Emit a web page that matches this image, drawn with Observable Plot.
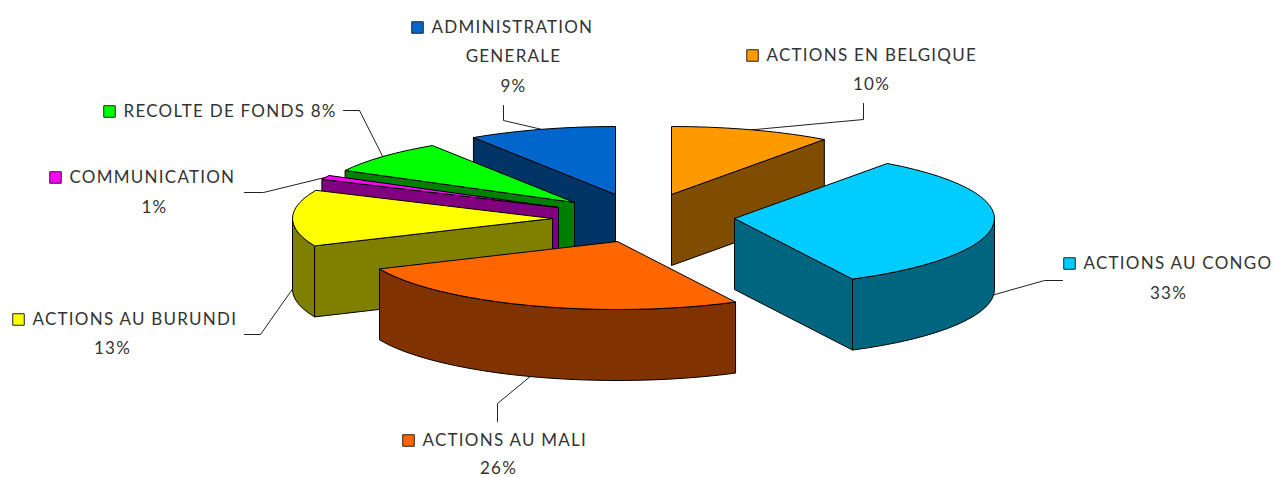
<!DOCTYPE html>
<html><head><meta charset="utf-8">
<script src="https://cdn.jsdelivr.net/npm/d3@7"></script>
<script src="https://cdn.jsdelivr.net/npm/@observablehq/plot@0.6"></script>
<style>html,body{margin:0;background:#fff}svg{display:block}</style>
</head><body><div id="chart"></div>
<script>
// Data: clockwise from twelve o'clock. Labels are the shares rounded.
const names  = ["ACTIONS EN BELGIQUE","ACTIONS AU CONGO","ACTIONS AU MALI","ACTIONS AU BURUNDI","COMMUNICATION","RECOLTE DE FONDS","ADMINISTRATION GENERALE"];
const shares = [10, 32.5, 25.9, 13.4, 1, 8, 9.2];
const topColors  = ["#ff9900","#00ccff","#ff6600","#ffff00","#ff00ff","#00ff00","#0066cc"];
const wallColors = ["#804d00","#006680","#803300","#808000","#800080","#008000","#003366"];

// Layout: exploded apex of each slice, leader elbows and label anchors.
const apexX = [671, 734, 617, 552, 558, 574, 615];
const apexY = [194, 218, 241, 218, 207, 202, 194];
const drawOrder = [6, 5, 4, 3, 0, 1, 2];
const radiusX = 260, radiusY = 68, depth = 71;
const leaderStartX = [863, 1062, 497, 244, 244, 343, 503];
const leaderStartY = [103, 280, 421, 334, 192, 110, 105];
const leaderElbowX = [863, 1044, 497, 260, 263, 359, 503];
const leaderElbowY = [119, 280, 403, 334, 192, 110, 120];
const keyX  = [752, 1069, 408, 18, 55, 109, 417];
const keyY  = [55, 263, 440, 319, 177, 111, 27];
const nameLines = [["ACTIONS EN BELGIQUE"],["ACTIONS AU CONGO"],["ACTIONS AU MALI"],["ACTIONS AU BURUNDI"],["COMMUNICATION"],["RECOLTE DE FONDS 8%"],["ADMINISTRATION"]];
const centredX = [871, 1168, 498, 112, 154, null, 513];
const centredY = [84, 293, 468, 348, 207, null, 86];
const extraLines = [{text:"GENERALE", x:513, y:56}];

const rad = d => d * Math.PI / 180;
const pt = (i, a, dz = 0) => ({x: apexX[i] + radiusX * Math.sin(rad(a)), y: apexY[i] - radiusY * Math.cos(rad(a)) + dz});
const total = d3.sum(shares);
const starts = [], ends = [];
shares.reduce((acc, s, i) => { starts[i] = acc; ends[i] = acc + s / total * 360; return ends[i]; }, 0);
const arc = (i, a0, a1, dz = 0) => {
  const out = [], n = Math.max(2, Math.ceil(Math.abs(a1 - a0) / 4));
  for (let k = 0; k <= n; k++) out.push(pt(i, a0 + (a1 - a0) * k / n, dz));
  return out;
};

const polys = [];
const add = (id, fill, pts) => { [...pts, pts[0]].forEach(p => polys.push({id, fill, x: p.x, y: p.y})); };
drawOrder.forEach(i => {
  const a0 = starts[i], a1 = ends[i], apex = {x: apexX[i], y: apexY[i]}, apexLow = {x: apexX[i], y: apexY[i] + depth};
  // radial walls facing the viewer
  if (Math.cos(rad(a0 - 90)) < 0) add(`s${i}`, wallColors[i], [apex, pt(i, a0), pt(i, a0, depth), apexLow]);
  if (Math.cos(rad(a1 + 90)) < 0) add(`e${i}`, wallColors[i], [apex, pt(i, a1), pt(i, a1, depth), apexLow]);
  // outer rim facing the viewer
  const f0 = Math.max(a0, 90), f1 = Math.min(a1, 270);
  if (f1 > f0) add(`r${i}`, wallColors[i], [...arc(i, f0, f1), ...arc(i, f1, f0, depth)]);
  add(`t${i}`, topColors[i], [apex, ...arc(i, a0, a1)]);
});

const leaders = [];
names.forEach((n, i) => {
  const mid = (starts[i] + ends[i]) / 2;
  const end = pt(i, mid, Math.cos(rad(mid)) < 0.05 ? depth : 0);
  [{x: leaderStartX[i], y: leaderStartY[i]}, {x: leaderElbowX[i], y: leaderElbowY[i]}, end]
    .forEach(p => leaders.push({id: n, ...p}));
});

const keys = names.map((n, i) => ({x: keyX[i], y: keyY[i], fill: topColors[i]}));
const startText = names.map((n, i) => ({x: keyX[i] + 14, y: keyY[i], text: nameLines[i][0]}));
const midText = [...names.map((n, i) => centredX[i] == null ? null :
    ({x: centredX[i], y: centredY[i], text: Math.round(shares[i]) + "%"})).filter(Boolean), ...extraLines];

const textOpts = {x: "x", y: "y", text: "text", fill: "#333", fontSize: 17, lineAnchor: "middle"};
const plot = Plot.plot({
  width: 1275, height: 477, margin: 0,
  x: {domain: [0, 1275], range: [0, 1275], axis: null},
  y: {domain: [0, 477], range: [0, 477], axis: null},
  color: {type: "identity"},
  style: {fontFamily: "Lato, 'Open Sans', sans-serif", background: "#fff", letterSpacing: "1.25px"},
  marks: [
    Plot.line(leaders, {x: "x", y: "y", z: "id", stroke: "#222", strokeWidth: 1, curve: "linear"}),
    Plot.line(polys, {x: "x", y: "y", z: "id", fill: "fill", stroke: "#000", strokeWidth: 1, curve: "linear", strokeLinejoin: "round"}),
    Plot.dot(keys, {x: "x", y: "y", fill: "fill", stroke: "#222", strokeWidth: 1, symbol: "square", r: 6.5}),
    Plot.text(startText, {...textOpts, textAnchor: "start"}),
    Plot.text(midText, {...textOpts, textAnchor: "middle"})
  ]
});
document.getElementById("chart").append(plot);
</script></body></html>
